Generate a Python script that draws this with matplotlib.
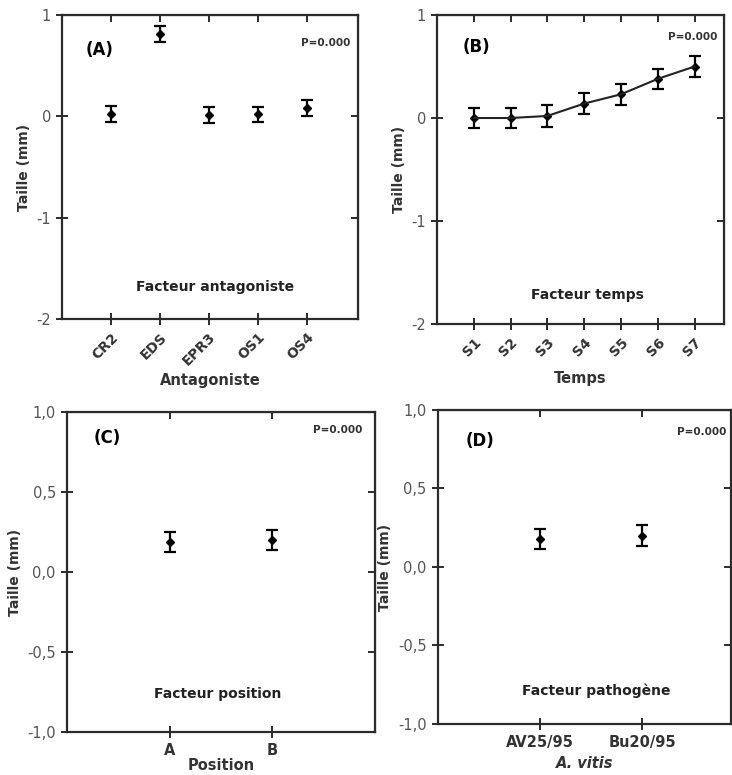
import numpy as np
import matplotlib.pyplot as plt

# (A) facteur antagoniste
antag = ['CR2', 'EDS', 'EPR3', 'OS1', 'OS4']
antag_y = [0.02, 0.81, 0.01, 0.02, 0.08]
antag_err = [0.08, 0.077, 0.08, 0.075, 0.077]

# (B) facteur temps
temps = ['S1', 'S2', 'S3', 'S4', 'S5', 'S6', 'S7']
temps_y = [0.0, 0.0, 0.02, 0.14, 0.23, 0.38, 0.50]
temps_err = [0.1, 0.1, 0.105, 0.1, 0.105, 0.1, 0.1]

# (C) facteur position
pos = ['A', 'B']
pos_y = [0.19, 0.20]
pos_err = [0.062, 0.062]

# (D) facteur pathogene
patho = ['AV25/95', 'Bu20/95']
patho_y = [0.18, 0.20]
patho_err = [0.065, 0.065]

spine_c = '#2b2b2b'
tick_c = '#555555'

fig = plt.figure(figsize=(7.32, 7.75), dpi=100)
axA = fig.add_axes([0.0847, 0.5884, 0.4043, 0.3922])
axB = fig.add_axes([0.597, 0.582, 0.392, 0.3986])
axC = fig.add_axes([0.0915, 0.0555, 0.4208, 0.4129])
axD = fig.add_axes([0.598, 0.0658, 0.4006, 0.4052])


def style(ax, xt, xl, yt, yl):
    ax.set_xticks(xt)
    ax.set_xticklabels(xl)
    ax.set_yticks(yt)
    ax.set_yticklabels(yl, color=tick_c, fontsize=10.5)
    for s in ax.spines.values():
        s.set_color(spine_c)
        s.set_linewidth(1.6)
    ax.tick_params(axis='both', direction='inout', length=9, width=1.4, color=spine_c)
    top = ax.secondary_xaxis('top')
    top.set_xticks(xt)
    top.set_xticklabels([])
    top.tick_params(direction='in', length=5, width=1.4, color=spine_c)
    right = ax.secondary_yaxis('right')
    right.set_yticks(yt)
    right.set_yticklabels([])
    right.tick_params(direction='in', length=5, width=1.4, color=spine_c)
    ax.set_ylabel('Taille (mm)', fontsize=10, fontweight='bold', color='#333333')


def points(ax, x, y, e, line=False):
    ax.errorbar(x, y, yerr=e, fmt='-' if line else 'none', color='#222222',
                lw=1.5, ecolor='black', elinewidth=1.6, capsize=4, capthick=1.6)
    ax.plot(x, y, 'D', color='black', ms=4)


def rot_labels(ax):
    for lab in ax.get_xticklabels():
        lab.set_rotation(45)
        lab.set_ha('right')
        lab.set_rotation_mode('anchor')
        lab.set_fontsize(10)
        lab.set_fontweight('bold')
        lab.set_color('#333333')


def flat_labels(ax):
    for lab in ax.get_xticklabels():
        lab.set_fontsize(10.5)
        lab.set_fontweight('bold')
        lab.set_color('#333333')


def notes(ax, tag, tag_xy, p_xy, fac, fac_xy):
    ax.text(tag_xy[0], tag_xy[1], tag, transform=ax.transAxes, fontsize=12,
            fontweight='bold', va='center')
    ax.text(p_xy[0], p_xy[1], 'P=0.000', transform=ax.transAxes, fontsize=7.5,
            fontweight='bold', ha='center', va='center', color='#333333')
    ax.text(fac_xy[0], fac_xy[1], fac, transform=ax.transAxes, fontsize=10,
            fontweight='bold', ha='center', va='center', color='#222222')


# A
xa = np.arange(1, len(antag) + 1)
points(axA, xa, antag_y, antag_err)
axA.set_xlim(0, 6.05)
axA.set_ylim(-2, 1)
style(axA, xa, antag, [-2, -1, 0, 1], ['-2', '-1', '0', '1'])
rot_labels(axA)
axA.set_xlabel('Antagoniste', fontsize=10.5, fontweight='bold', color='#333333', labelpad=3)
notes(axA, '(A)', (0.08, 0.885), (0.89, 0.908), 'Facteur antagoniste', (0.517, 0.105))

# B
xb = np.arange(1, len(temps) + 1)
points(axB, xb, temps_y, temps_err, line=True)
axB.set_xlim(0, 7.8)
axB.set_ylim(-2, 1)
style(axB, xb, temps, [-2, -1, 0, 1], ['-2', '-1', '0', '1'])
rot_labels(axB)
axB.set_xlabel('Temps', fontsize=10.5, fontweight='bold', color='#333333', labelpad=9)
notes(axB, '(B)', (0.09, 0.896), (0.89, 0.93), 'Facteur temps', (0.526, 0.094))

# C
xc = np.arange(1, len(pos) + 1)
points(axC, xc, pos_y, pos_err)
axC.set_xlim(0, 3)
axC.set_ylim(-1, 1)
style(axC, xc, pos, [-1, -0.5, 0, 0.5, 1], ['-1,0', '-0,5', '0,0', '0,5', '1,0'])
flat_labels(axC)
axC.set_xlabel('Position', fontsize=10.5, fontweight='bold', color='#333333', labelpad=0)
notes(axC, '(C)', (0.085, 0.92), (0.88, 0.944), 'Facteur position', (0.49, 0.119))

# D
xd = np.arange(1, len(patho) + 1)
points(axD, xd, patho_y, patho_err)
axD.set_xlim(0, 2.87)
axD.set_ylim(-1, 1)
style(axD, xd, patho, [-1, -0.5, 0, 0.5, 1], ['-1,0', '-0,5', '0,0', '0,5', '1,0'])
flat_labels(axD)
axD.set_xlabel('A. vitis', fontsize=10.5, fontweight='bold', style='italic', color='#333333', labelpad=4)
notes(axD, '(D)', (0.096, 0.90), (0.9, 0.93), 'Facteur pathogène', (0.54, 0.105))

fig.savefig('out.png', dpi=100)
